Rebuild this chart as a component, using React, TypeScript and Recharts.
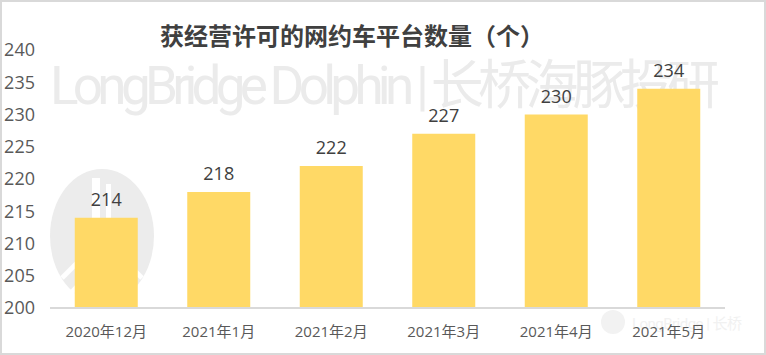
import React from 'react';
import { Bar, BarChart, LabelList, XAxis, YAxis, Customized } from 'recharts';

const months = ['2020年12月', '2021年1月', '2021年2月', '2021年3月', '2021年4月', '2021年5月'];
const platformCounts = [214, 218, 222, 227, 230, 234];
const yTicks = [200, 205, 210, 215, 220, 225, 230, 235, 240];

const chartData = months.map((month, i) => ({ month, count: platformCounts[i] }));

const FONT = '"Open Sans", "Noto Sans CJK SC", sans-serif';

// faint logo + text watermark behind the bars
const Watermark = () => (
  <g>
    <ellipse cx={102} cy={236} rx={52} ry={67} fill="#ececec" />
    <rect x={92} y={178} width={8} height={60} fill="#fff" />
    <rect x={106} y={184} width={5} height={50} fill="#fff" />
    <line x1={62} y1={278} x2={100} y2={240} stroke="#fff" strokeWidth={5} />
    <line x1={72} y1={292} x2={104} y2={258} stroke="#fff" strokeWidth={5} />
    <line x1={142} y1={278} x2={108} y2={244} stroke="#fff" strokeWidth={5} />
    <text
      x={50}
      y={104}
      fontSize={53}
      fill="#ebebeb"
      fontFamily={'Roboto, "Noto Sans CJK SC", sans-serif'}
      textLength={670}
    >
      LongBridge Dolphin | 长桥海豚投研
    </text>
    <circle cx={613} cy={322} r={12} fill="#f2f2f2" />
    <text
      x={632}
      y={329}
      fontSize={15}
      fill="#f1f1f1"
      fontFamily={'Roboto, "Noto Sans CJK SC", sans-serif'}
      textLength={110}
    >
      LongBridge | 长桥
    </text>
  </g>
);

const App = () => {
  return (
    <div style={{ position: 'absolute', left: 0, top: 0, width: 766, height: 355, background: '#fff' }}>
      <BarChart
        width={766}
        height={355}
        data={chartData}
        margin={{ top: 50, right: 41, left: 0, bottom: 17 }}
        barCategoryGap="22%"
      >
        <Customized component={Watermark} />
        <XAxis
          dataKey="month"
          height={30}
          axisLine={{ stroke: '#d9d9d9', strokeWidth: 2 }}
          tickLine={false}
          tick={{ fill: '#595959', fontSize: 15, fontFamily: FONT }}
          tickMargin={12}
          interval={0}
        />
        <YAxis
          domain={[200, 240]}
          ticks={yTicks}
          width={50}
          axisLine={false}
          tickLine={false}
          tick={{ fill: '#595959', fontSize: 18, fontFamily: FONT }}
          tickMargin={9}
          allowDataOverflow
        />
        <Bar dataKey="count" fill="#FFD966" isAnimationActive={false}>
          <LabelList
            dataKey="count"
            position="top"
            offset={12}
            fill="#404040"
            fontSize={18}
            fontFamily={FONT}
          />
        </Bar>
      </BarChart>
      <div
        style={{
          position: 'absolute',
          left: 0,
          top: 17,
          width: 704,
          textAlign: 'center',
          fontSize: 24,
          fontWeight: 'bold',
          color: '#404040',
          fontFamily: '"Noto Sans CJK SC", sans-serif',
        }}
      >
        获经营许可的网约车平台数量（个）
      </div>
      <div
        style={{
          position: 'absolute',
          left: 0,
          top: 0,
          width: 766,
          height: 355,
          boxSizing: 'border-box',
          border: '2px solid #d9d9d9',
          pointerEvents: 'none',
        }}
      />
    </div>
  );
};

export default App;
